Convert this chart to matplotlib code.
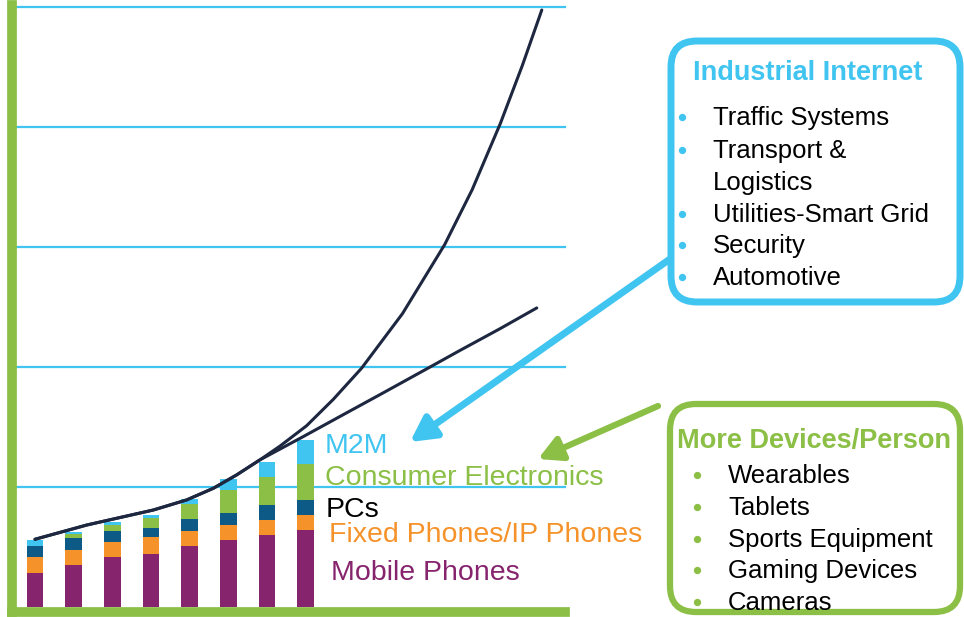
import numpy as np
import matplotlib
matplotlib.use("Agg")
import matplotlib.pyplot as plt
from matplotlib.patches import FancyBboxPatch

plt.rcParams["font.family"] = ["Liberation Sans", "DejaVu Sans"]

# stacked bar values (8 periods), bottom to top
mobile = [0.28, 0.35, 0.42, 0.44, 0.51, 0.56, 0.60, 0.645]
fixed = [0.14, 0.125, 0.12, 0.14, 0.12, 0.12, 0.125, 0.12]
pcs = [0.09, 0.10, 0.09, 0.08, 0.105, 0.10, 0.125, 0.125]
consumer = [0.0, 0.03, 0.05, 0.08, 0.12, 0.195, 0.235, 0.305]
m2m = [0.05, 0.02, 0.03, 0.03, 0.045, 0.09, 0.125, 0.195]

# trend curves (shared start, then they split)
start_x = [0.0, 1.34, 3.06, 3.92, 4.61, 5.21, 5.81]
start_y = [0.564, 0.683, 0.808, 0.892, 0.989, 1.10, 1.225]
steep_x = start_x + [6.33, 7.02, 7.71, 8.44, 9.5, 10.59, 11.3, 12.03, 12.6, 13.1]
steep_y = start_y + [1.34, 1.51, 1.73, 1.989, 2.445, 3.02, 3.477, 4.03, 4.515, 4.975]
flat_x = start_x + [6.93, 7.88, 8.92, 10.13, 10.98, 12.02, 12.97]
flat_y = start_y + [1.419, 1.587, 1.77, 1.985, 2.137, 2.319, 2.492]

series = [("Mobile Phones", mobile, "#86246E"),
          ("Fixed Phones/IP Phones", fixed, "#F5922A"),
          ("PCs", pcs, "#0E5A87"),
          ("Consumer Electronics", consumer, "#8BBF45"),
          ("M2M", m2m, "#40C4F0")]

cyan = "#40C4F0"
green = "#8BBF45"
navy = "#1E2740"

W, H = 964, 617
fig = plt.figure(figsize=(W / 100, H / 100), dpi=100)
ax = fig.add_axes([12 / W, 5 / H, (565 - 12) / W, 605 / H])

x = np.arange(len(mobile))
bottom = np.zeros(len(mobile))
for name, vals, col in series:
    ax.bar(x, vals, width=0.43, bottom=bottom, color=col, zorder=2)
    bottom += np.array(vals)

for g in range(1, 6):
    ax.axhline(g, color=cyan, lw=1.6, zorder=1, clip_on=False)

ax.plot(flat_x, flat_y, color=navy, lw=2.2, zorder=3,
        solid_capstyle="round", solid_joinstyle="round")
ax.plot(steep_x, steep_y, color=navy, lw=2.2, zorder=3,
        solid_capstyle="round", solid_joinstyle="round")

ax.set_xlim(-0.594, 13.7)
ax.set_ylim(-0.042, 5.0)
ax.set_xticks([])
ax.set_yticks([])
for s in ["top", "right"]:
    ax.spines[s].set_visible(False)
for s in ["left", "bottom"]:
    ax.spines[s].set_color(green)
    ax.spines[s].set_linewidth(7)
ax.spines["left"].set_bounds(-0.042, 5.02)

# overlay in pixel coordinates for labels, arrows and boxes
ov = fig.add_axes([0, 0, 1, 1])
ov.set_xlim(0, W)
ov.set_ylim(H, 0)
ov.axis("off")
ov.patch.set_alpha(0)

labels = [("M2M", cyan, 325, 453), ("Consumer Electronics", green, 325, 485),
          ("PCs", "black", 326, 517), ("Fixed Phones/IP Phones", "#F5922A", 329, 542),
          ("Mobile Phones", "#86246E", 331, 580)]
for t, c, lx, ly in labels:
    ov.text(lx, ly, t, color=c, fontsize=20.5, va="baseline", ha="left")

ov.annotate("", xy=(410, 442), xytext=(670, 259),
            arrowprops=dict(arrowstyle="-|>,head_length=1.5,head_width=0.8",
                            color=cyan, lw=5, shrinkA=0, shrinkB=0))
ov.annotate("", xy=(538, 459), xytext=(658, 406),
            arrowprops=dict(arrowstyle="-|>,head_length=1.4,head_width=0.75",
                            color=green, lw=4.5, shrinkA=0, shrinkB=0))

box1 = FancyBboxPatch((671, 41), 289, 261, boxstyle="round,pad=0,rounding_size=26",
                      fc="white", ec=cyan, lw=5)
ov.add_patch(box1)
box2 = FancyBboxPatch((670, 404), 290, 208, boxstyle="round,pad=0,rounding_size=26",
                      fc="white", ec=green, lw=4.5)
ov.add_patch(box2)

ov.text(693, 80, "Industrial Internet", color=cyan, fontsize=19.5,
        fontweight="bold", va="baseline")
ind_items = [("Traffic Systems", 125, True), ("Transport &", 158, True),
             ("Logistics", 190, False), ("Utilities-Smart Grid", 222, True),
             ("Security", 253, True), ("Automotive", 285, True)]
for t, by, bullet in ind_items:
    ov.text(713, by, t, fontsize=18.5, va="baseline")
    if bullet:
        ov.scatter(682, by - 8, s=18, color=cyan, zorder=5)

ov.text(677, 448, "More Devices/Person", color=green, fontsize=19.5,
        fontweight="bold", va="baseline")
dev_items = [("Wearables", 483), ("Tablets", 515), ("Sports Equipment", 547),
             ("Gaming Devices", 578), ("Cameras", 610)]
for t, by in dev_items:
    ov.text(728, by, t, fontsize=18.5, va="baseline")
    ov.scatter(697, by - 8, s=18, color=green, zorder=5)

fig.savefig("out.png", dpi=100)
